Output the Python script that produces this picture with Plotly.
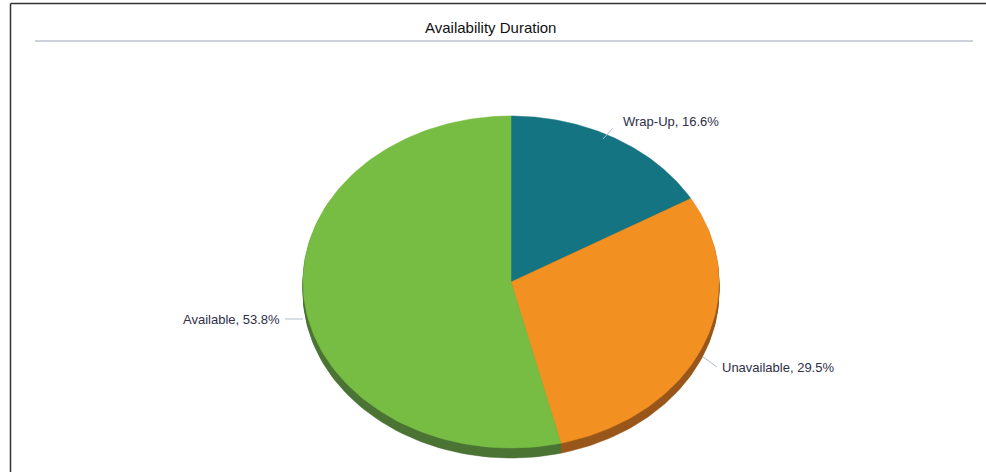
"""
Availability Duration - 3D 스타일 파이 차트 (Plotly)
"""

import numpy as np
import plotly.graph_objects as go

# 데이터
labels = ['Wrap-Up', 'Unavailable', 'Available']
percents = [16.6, 29.5, 53.8]
top_colors = ['#147482', '#f39022', '#78bd43']
side_colors = ['#0c4a53', '#99561b', '#4a7334']

# 레이아웃 (픽셀 좌표계)
W, H = 986, 472
cx, cy = 511, 282        # 파이 중심
rx, ry = 208, 166        # 타원 반지름
depth = 10               # 옆면 두께

# 라벨 위치: (연결선 시작, 연결선 끝, 텍스트 기준점, 정렬)
label_layout = {
    'Wrap-Up': ((603, 139), (613, 128), (621, 121), 'left'),
    'Unavailable': ((703, 357), (717, 367), (720, 367), 'left'),
    'Available': ((303, 319), (285, 319), (282, 319), 'right'),
}


def wedge(a0, a1, dy=0, n=120):
    t = np.radians(np.linspace(a0, a1, n))
    xs = np.concatenate([[cx], cx + rx * np.sin(t), [cx]])
    ys = np.concatenate([[cy], cy - ry * np.cos(t), [cy]]) + dy
    return xs, ys


total = sum(percents)
bounds = []
start = 0.0
for p in percents:
    end = start + p / total * 360.0
    bounds.append((start, end))
    start = end

fig = go.Figure()

# 옆면 (아래로 이동된 쐐기)
for (a0, a1), c in zip(bounds, side_colors):
    for dy in np.arange(1, depth + 1):
        xs, ys = wedge(a0, a1, dy)
        fig.add_trace(go.Scatter(x=xs, y=ys, mode='lines', fill='toself',
                                 fillcolor=c, line=dict(color=c, width=0.5),
                                 hoverinfo='skip', showlegend=False))

# 윗면
for (a0, a1), c, name in zip(bounds, top_colors, labels):
    xs, ys = wedge(a0, a1)
    fig.add_trace(go.Scatter(x=xs, y=ys, mode='lines', fill='toself',
                             fillcolor=c, line=dict(color=c, width=0.5),
                             name=name, hoverinfo='name', showlegend=False))

# 라벨 + 연결선
for name, p in zip(labels, percents):
    (x0, y0), (x1, y1), (tx, ty), align = label_layout[name]
    fig.add_trace(go.Scatter(x=[x0, x1], y=[y0, y1], mode='lines',
                             line=dict(color='#b4bccc', width=1),
                             hoverinfo='skip', showlegend=False))
    fig.add_annotation(x=tx, y=ty, xref='x', yref='y', showarrow=False,
                       text=f'{name}, {p}%',
                       xanchor=align, yanchor='middle',
                       font=dict(family='Liberation Sans, Arial', size=13,
                                 color='#2e2e48'))

# 제목
fig.add_annotation(x=490, y=27, xref='x', yref='y', showarrow=False,
                   text='Availability Duration', xanchor='center', yanchor='middle',
                   font=dict(family='Liberation Sans, Arial', size=15, color='#111111'))

# 제목 아래 구분선, 테두리
fig.add_shape(type='line', x0=35, x1=973, y0=41, y1=41, xref='x', yref='y',
              line=dict(color='#cfd1de', width=2))
fig.add_shape(type='line', x0=10.5, x1=W, y0=3.5, y1=3.5, xref='x', yref='y',
              line=dict(color='#333333', width=1.5))
fig.add_shape(type='line', x0=10.5, x1=10.5, y0=3.5, y1=H, xref='x', yref='y',
              line=dict(color='#333333', width=1.5))

fig.update_layout(
    width=W, height=H, autosize=False,
    margin=dict(l=0, r=0, t=0, b=0),
    paper_bgcolor='white', plot_bgcolor='white',
    xaxis=dict(range=[0, W], visible=False, fixedrange=True),
    yaxis=dict(range=[H, 0], visible=False, fixedrange=True),
)

# 기본 body 여백 제거 (픽셀 위치 맞춤)
fig.write_html("out.html",
               config={'displayModeBar': False},
               post_script="document.body.style.margin='0';"
                           "document.body.style.overflow='hidden';")
